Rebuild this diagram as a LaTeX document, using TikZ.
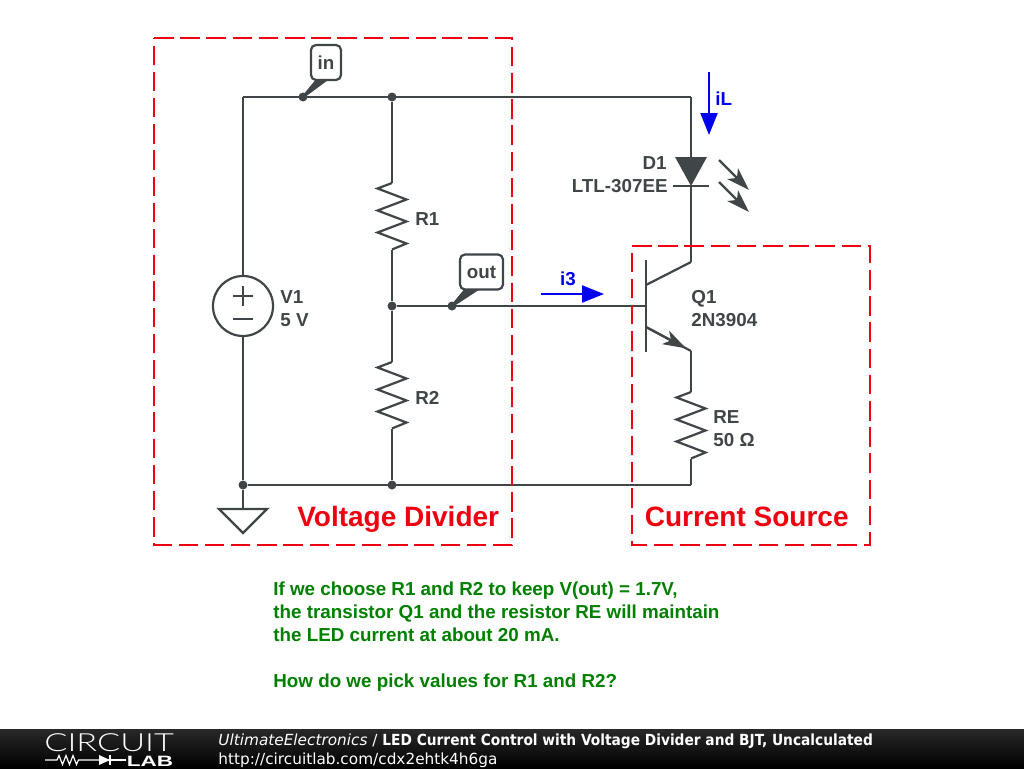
\documentclass[tikz,border=0pt]{standalone}
\usepackage{fontspec}
\setmainfont{Liberation Sans}
\newfontfamily\footfont{DejaVu Sans}
\newfontfamily\footbold{DejaVu Sans Condensed Bold}
\newfontfamily\logofont{Lato Light}
\usetikzlibrary{positioning,arrows.meta,calc}
\definecolor{wire}{HTML}{404548}
\definecolor{boxred}{HTML}{EE0011}
\definecolor{noteblue}{HTML}{0000EE}
\definecolor{notegreen}{HTML}{007F00}
\begin{document}
\begin{tikzpicture}[x=1pt,y=-1pt,thick]

		\tikzstyle{wire}=[draw=wire,line width=2.2pt,line join=miter]
		\tikzstyle{junction}=[shape=circle,fill=wire,inner sep=0pt,minimum size=9pt]
		\tikzstyle{res}=[wire,to path={-- ++(-14.5,5.5) -- ++(29,11) -- ++(-29,11) -- ++(29,11) -- ++(-29,11) -- ++(29,11) -- (\tikztotarget)}]
		\tikzstyle{lab}=[text=wire,font=\bfseries\fontsize{18.8}{20}\selectfont,inner sep=0pt,align=left]
		\tikzstyle{flag}=[lab,draw=wire,line width=2.2pt,fill=white,rounded corners=5pt,inner sep=0pt,minimum height=35pt]
		\tikzstyle{flagtail}=[fill=wire,draw=wire,line width=2.5pt,line join=round]
		\tikzstyle{region}=[draw=boxred,line width=2.2pt,dash pattern=on 19.5pt off 6.7pt]
		\tikzstyle{regionlab}=[text=boxred,font=\bfseries\fontsize{28}{30}\selectfont,inner sep=0pt]
		\tikzstyle{current}=[draw=noteblue,line width=2.2pt,-{Triangle[length=22pt,width=17pt]}]
		\tikzstyle{currentlab}=[text=noteblue,font=\bfseries\fontsize{18.8}{20}\selectfont,inner sep=0pt]
		\tikzstyle{glow}=[draw=wire,line width=2.2pt,-{Stealth[length=23pt,width=15pt,inset=6pt]}]
		\tikzstyle{note}=[text=notegreen,font=\bfseries\fontsize{18.8}{23}\selectfont,inner sep=0pt,align=left]

		\useasboundingbox (0,0) rectangle (1024,768);

		% corners of the circuit
		\coordinate (tl) at (243,97);
		\coordinate (tr) at (691,97);
		\coordinate (br) at (691,485);
		\node[junction] (nin) at (303,97) {};
		\node[junction] (ntop) at (392,97) {};
		\node[junction] (nmid) at (392,306) {};
		\node[junction] (nout) at (452,306) {};
		\node[junction] (nbot) at (392,485) {};
		\node[junction] (ngnd) at (243,485) {};

		% V1
		\node[shape=circle,draw=wire,line width=2.2pt,minimum size=60pt,inner sep=0pt] (v1) at (243,306) {};
		\coordinate (vplus) at (243,296);
		\coordinate (vminus) at (243,319);
		\draw[wire] ($(vplus)+(-10,0)$) -- ($(vplus)+(10,0)$);
		\draw[wire] ($(vplus)+(0,-10)$) -- ($(vplus)+(0,10)$);
		\draw[wire] ($(vminus)+(-10,0)$) -- ($(vminus)+(10,0)$);
		\node[lab,anchor=base west] (v1name) at (280,303) {V1};
		\node[lab,anchor=base west] (v1val) at (280,326) {5 V};

		% R1, R2
		\coordinate (r1t) at (392,183);
		\coordinate (r1b) at (392,249.5);
		\coordinate (r2t) at (392,362);
		\coordinate (r2b) at (392,428.5);
		\node[lab,anchor=base west] (r1name) at (415,225) {R1};
		\node[lab,anchor=base west] (r2name) at (415,404) {R2};

		% D1
		\coordinate (dtop) at (691,157);
		\coordinate (dbot) at (691,186);
		\coordinate (dbarl) at (673,186);
		\coordinate (dbarr) at (709,186);
		\node[lab,anchor=base east] (d1name) at (667,169) {D1};
		\node[lab,anchor=base east] (d1part) at (668,192) {LTL-307EE};
		\coordinate (g1a) at (719,160);
		\coordinate (g1b) at (749,190);
		\coordinate (g2a) at (719,182);
		\coordinate (g2b) at (749,212);

		% Q1
		\coordinate (qbt) at (646,260);
		\coordinate (qbb) at (646,352);
		\coordinate (qb) at (646,306);
		\coordinate (qc) at (646,285);
		\coordinate (qcu) at (691,262);
		\coordinate (qe) at (646,327);
		\coordinate (qed) at (691,351);
		\coordinate (qtip) at (686,348.3);
		\node[lab,anchor=base west] (q1name) at (691,303) {Q1};
		\node[lab,anchor=base west] (q1part) at (691,326) {2N3904};

		% RE
		\coordinate (ret) at (691,392);
		\coordinate (reb) at (691,458.5);
		\node[lab,anchor=base west] (rename) at (713,423) {RE};
		\node[lab,anchor=base west] (reval) at (713,446) {50 Ω};

		% ground
		\coordinate (gt) at (243,509);
		\coordinate (gl) at (219,509);
		\coordinate (gr) at (267,509);
		\coordinate (gb) at (243,533);

		\path (tl) edge [wire] (tr)
					(tl) edge [wire] (v1)
					(v1) edge [wire] (ngnd)
					(ngnd) edge [wire] (br)
					(ngnd) edge [wire] (gt)
					(ntop) edge [wire] (r1t)
					(r1t) edge [res] (r1b)
					(r1b) edge [wire] (nmid)
					(nmid) edge [wire] (r2t)
					(r2t) edge [res] (r2b)
					(r2b) edge [wire] (nbot)
					(nmid) edge [wire] (qb)
					(tr) edge [wire] (dtop)
					(dbot) edge [wire] (qcu)
					(dbarl) edge [wire] (dbarr)
					(qbt) edge [wire] (qbb)
					(qc) edge [wire] (qcu)
					(qe) edge [wire] (qed)
					(qed) edge [wire] (ret)
					(ret) edge [res] (reb)
					(reb) edge [wire] (br);

		\fill[fill=wire] (675,157) -- (707,157) -- (dbot) -- cycle;
		\draw[wire] (gl) -- (gr) -- (gb) -- cycle;
		\draw[glow] (g1a) -- (g1b);
		\draw[glow] (g2a) -- (g2b);
		\draw[glow] (qe) -- (qtip);

		% net flags
		\draw[flagtail] (nin.center) -- (317,80) -- (326,80) -- cycle;
		\node[flag,minimum width=30pt] (fin) at (326,62.5) {in};
		\draw[flagtail] (nout.center) -- (466,289) -- (478,289) -- cycle;
		\node[flag,minimum width=43pt] (fout) at (481.5,272) {out};

		% currents
		\coordinate (ila) at (709,72);
		\coordinate (ilb) at (709,135);
		\coordinate (i3a) at (541,294);
		\coordinate (i3b) at (604,294);
		\draw[current] (ila) -- (ilb);
		\draw[current] (i3a) -- (i3b);
		\node[currentlab,anchor=base west] (ilname) at (715,105) {iL};
		\node[currentlab,anchor=base] (i3name) at (568,285) {i3};

		% regions
		\coordinate (vdtl) at (154,38);
		\coordinate (vdbr) at (512,545);
		\coordinate (cstl) at (632,246);
		\coordinate (csbr) at (870,545);
		\draw[region] (vdtl) -| (vdbr) -| (vdtl);
		\draw[region] (cstl) -| (csbr) -| (cstl);
		\node[regionlab,anchor=base east] (vdname) at (499.5,526) {Voltage Divider};
		\node[regionlab,anchor=base east] (csname) at (849,526) {Current Source};

		% remark
		\node[note,anchor=north west] (remark) at (273,581) {If we choose R1 and R2 to keep V(out) = 1.7V,\\the transistor Q1 and the resistor RE will maintain\\the LED current at about 20 mA.\\[23pt]How do we pick values for R1 and R2?};

		% footer
		\shade[top color=black!84,bottom color=black] (0,729) rectangle (1024,768);
		\node[anchor=base west,inner sep=0pt,text=white,font=\footfont\fontsize{15.3}{18}\selectfont] (ftitle) at (218,745) {\textit{UltimateElectronics} / {\footbold LED Current Control with Voltage Divider and BJT, Uncalculated}};
		\node[anchor=base west,inner sep=0pt,text=white,font=\footfont\fontsize{15.3}{18}\selectfont] (furl) at (218,764) {http://circuitlab.com/cdx2ehtk4h6ga};
		\node[anchor=base west,inner sep=0pt,text=white,font=\logofont\fontsize{25}{25}\selectfont] (flogo) at (44,751) {\scalebox{1.37}[1]{CIRCUIT}};
		\node[anchor=base east,inner sep=0pt,text=white,font=\bfseries\fontsize{15}{15}\selectfont] (flab) at (173.5,766) {\scalebox{1.5}[1]{LAB}};
		\coordinate (la) at (45,760);
		\coordinate (lb) at (99,760);
		\coordinate (lc) at (110,760);
		\coordinate (ld) at (126,760);
		\draw[white,line width=1.2pt] (la) -- ++(12,0) -- ++(2,-4.5) -- ++(3.5,9) -- ++(3.5,-9) -- ++(3.5,9) -- ++(3.5,-9) -- ++(3.5,9) -- ++(2,-4.5) -- (lb);
		\draw[white,line width=1.2pt] (lb) -- (lc) (lc) -- (ld);
		\fill[white] (99,755) -- (110,760) -- (99,765) -- cycle;
		\draw[white,line width=1.5pt] (110,755) -- (110,765);
\end{tikzpicture}
\end{document}
